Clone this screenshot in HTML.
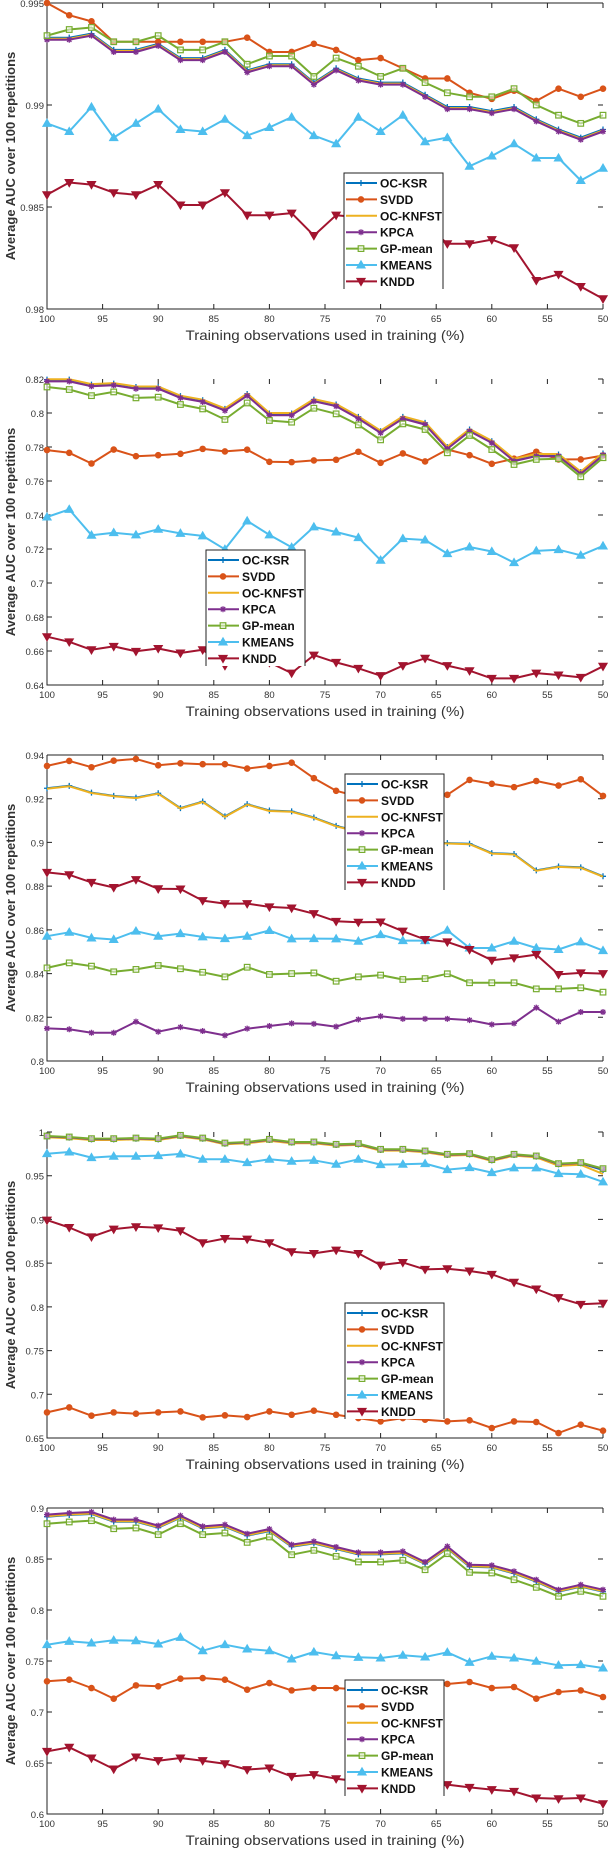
<!DOCTYPE html>
<html><head><meta charset="utf-8"><style>
html,body{margin:0;padding:0;background:#fff;}
svg{display:block;font-family:"Liberation Sans",Arial,sans-serif;}
</style></head><body>
<svg id="fig" width="608" height="1850" viewBox="0 0 608 1850" xmlns="http://www.w3.org/2000/svg"></svg>
<script>
const categories=[100,98,96,94,92,90,88,86,84,82,80,78,76,74,72,70,68,66,64,62,60,58,56,54,52,50];
const xTickLabels=[100,95,90,85,80,75,70,65,60,55,50];
const seriesNames=["OC-KSR","SVDD","OC-KNFST","KPCA","GP-mean","KMEANS","KNDD"];
// Panel 1
const p1Ticks=[0.98,0.985,0.99,0.995];
const p1_ocksr=[.9933,.9933,.9935,.9927,.9927,.993,.9923,.9923,.9927,.9917,.992,.992,.9911,.9918,.9913,.9911,.9911,.9905,.9899,.9899,.9897,.9899,.9893,.9888,.9884,.9888];
const p1_svdd=[.995,.9944,.9941,.9931,.9931,.9931,.9931,.9931,.9931,.9933,.9926,.9926,.993,.9927,.9922,.9923,.9918,.9913,.9913,.9906,.9903,.9907,.9902,.9908,.9904,.9908];
const p1_knfst=[.99325,.99325,.99345,.99265,.99265,.99295,.99225,.99225,.99265,.99165,.99195,.99195,.99105,.99175,.99125,.99105,.99105,.99045,.98985,.98985,.98965,.98985,.98925,.98875,.98835,.98875];
const p1_kpca=[.9932,.9932,.9934,.9926,.9926,.9929,.9922,.9922,.9926,.9916,.9919,.9919,.991,.9917,.9912,.991,.991,.9904,.9898,.9898,.9896,.9898,.9892,.9887,.9883,.9887];
const p1_gp=[.9934,.9937,.9938,.9931,.9931,.9934,.9927,.9927,.9931,.992,.9924,.9924,.9914,.9923,.9919,.9914,.9918,.9911,.9906,.9904,.9904,.9908,.99,.9895,.9891,.9895];
const p1_kmeans=[.9891,.9887,.9899,.9884,.9891,.9898,.9888,.9887,.9893,.9885,.9889,.9894,.9885,.9881,.9894,.9887,.9895,.9882,.9884,.987,.9875,.9881,.9874,.9874,.9863,.9869];
const p1_kndd=[.9856,.9862,.9861,.9857,.9856,.9861,.9851,.9851,.9857,.9846,.9846,.9847,.9836,.9846,.9845,.9844,.9843,.9842,.9832,.9832,.9834,.983,.9814,.9817,.9811,.9805];
// Panel 2
const p2Ticks=[0.64,0.66,0.68,0.7,0.72,0.74,0.76,0.78,0.8,0.82];
const p2_ocksr=[.8196,.8196,.8167,.8173,.8153,.8153,.8099,.8075,.8024,.8112,.7997,.7997,.8079,.805,.7977,.7893,.7977,.7942,.7799,.7903,.7834,.7727,.7756,.7756,.7652,.7762];
const p2_svdd=[.7782,.7766,.7703,.7785,.7746,.7752,.776,.7789,.7774,.7784,.7713,.7711,.7721,.7725,.7772,.7707,.7762,.7715,.7785,.7752,.7701,.7731,.7772,.7727,.7727,.775];
const p2_knfst=[.8199,.8199,.817,.8176,.8156,.8156,.8102,.8078,.8027,.8115,.8,.8,.8082,.8053,.798,.7896,.798,.7945,.7802,.7906,.7837,.773,.7759,.7759,.7655,.7765];
const p2_kpca=[.8186,.8186,.8157,.8163,.8143,.8143,.8089,.8065,.8014,.8102,.7987,.7987,.8069,.804,.7967,.7883,.7967,.7932,.7789,.7893,.7824,.7717,.7746,.7746,.7642,.7752];
const p2_gp=[.8153,.8138,.8102,.8124,.8089,.8093,.805,.8024,.7962,.8059,.7956,.7946,.8028,.7995,.793,.7842,.7936,.7903,.7766,.7868,.7785,.7697,.7727,.7731,.7625,.7737];
const p2_kmeans=[.7388,.7433,.7281,.7296,.7283,.7316,.7292,.7277,.7198,.7365,.7283,.721,.733,.73,.7267,.7134,.7261,.7253,.7173,.7212,.7185,.712,.7189,.7196,.7163,.7218];
const p2_kndd=[.6684,.6654,.6607,.6627,.6598,.6615,.6588,.6607,.6514,.6553,.6533,.647,.6576,.6533,.6498,.6455,.6514,.6557,.6514,.6484,.6439,.6439,.647,.6459,.6445,.651];
// Panel 3
const p3Ticks=[0.8,0.82,0.84,0.86,0.88,0.9,0.92,0.94];
const p3_ocksr=[.9248,.9259,.9228,.9213,.9205,.9225,.9157,.9187,.9119,.9175,.9146,.9142,.9114,.9076,.905,.902,.9005,.900,.8997,.8994,.8951,.8947,.8872,.889,.8886,.8845];
const p3_svdd=[.935,.9373,.9344,.9374,.9382,.9353,.9362,.9358,.9358,.9338,.935,.9365,.9294,.9236,.921,.9215,.921,.9212,.9218,.9286,.9268,.9253,.9281,.926,.9289,.9213];
const p3_knfst=[.9246,.9257,.9226,.9211,.9203,.9223,.9155,.9185,.9117,.9173,.9144,.914,.9112,.9074,.9048,.9018,.9003,.8998,.8995,.8992,.8949,.8945,.887,.8888,.8884,.8843];
const p3_kpca=[.8149,.8145,.8129,.8129,.818,.8134,.8155,.8137,.8117,.8148,.816,.8172,.817,.8157,.819,.8205,.8193,.8193,.8193,.8187,.8167,.8172,.8244,.818,.8224,.8224];
const p3_gp=[.8426,.8449,.8434,.8408,.8419,.8437,.8422,.8406,.8385,.8429,.8396,.84,.8403,.8365,.8385,.8393,.8373,.8377,.8399,.8358,.8358,.8358,.833,.833,.8335,.8315];
const p3_kmeans=[.8571,.8589,.8563,.8556,.8594,.8571,.8583,.8568,.856,.8571,.8597,.8559,.856,.8559,.8548,.8578,.8551,.8551,.8598,.8517,.8517,.8548,.8517,.851,.8545,.8505];
const p3_kndd=[.8863,.8852,.8817,.8794,.883,.8788,.8787,.8734,.872,.872,.8705,.87,.8674,.8639,.8635,.8636,.8594,.8556,.8545,.851,.8461,.8472,.8487,.8396,.8403,.84];
// Panel 4
const p4Ticks=[0.65,0.7,0.75,0.8,0.85,0.9,0.95,1];
const p4_ocksr=[.9946,.9935,.9916,.9916,.9923,.9916,.9954,.9923,.9866,.9878,.9908,.9878,.9878,.9851,.9859,.9794,.9794,.9775,.9737,.9744,.9676,.9737,.9718,.963,.9642,.9565];
const p4_svdd=[.6793,.685,.6755,.6793,.6778,.6793,.6804,.6736,.6759,.674,.6804,.6766,.6812,.6766,.6728,.669,.6728,.6709,.669,.6702,.6614,.669,.6683,.6557,.6652,.6584];
const p4_knfst=[.9939,.9928,.9909,.9909,.9916,.9909,.9947,.9916,.9859,.9871,.9901,.9871,.9871,.9844,.9852,.9787,.9787,.9768,.973,.9737,.9669,.973,.9711,.9615,.9625,.952];
const p4_kpca=[.9949,.9938,.9919,.9919,.9926,.9919,.9957,.9926,.9869,.9881,.9911,.9881,.9881,.9854,.9862,.9797,.9797,.9778,.974,.9747,.9679,.974,.9721,.9633,.9645,.9576];
const p4_gp=[.9954,.9943,.9924,.9924,.9931,.9924,.9962,.9931,.9874,.9886,.9916,.9886,.9886,.9859,.9867,.9802,.9802,.9783,.9745,.9752,.9684,.9745,.9726,.9638,.965,.9581];
const p4_kmeans=[.9752,.9771,.9707,.9722,.9722,.973,.9749,.9688,.9688,.965,.9688,.9665,.9676,.9631,.9688,.9627,.9631,.9638,.957,.9593,.9536,.9589,.9589,.9524,.9517,.9429];
const p4_kndd=[.8992,.8908,.8801,.8889,.8916,.8904,.887,.8733,.8782,.8775,.8733,.863,.8611,.8649,.8611,.8478,.8508,.8429,.8436,.841,.8372,.8281,.8204,.8105,.8029,.8041];
// Panel 5
const p5Ticks=[0.6,0.65,0.7,0.75,0.8,0.85,0.9];
const p5_ocksr=[.8915,.8931,.8941,.8866,.8866,.8807,.8905,.88,.8817,.8728,.8774,.8621,.8653,.8598,.8545,.8545,.8555,.8451,.8604,.8424,.8418,.8359,.8277,.8179,.8228,.8179];
const p5_svdd=[.7301,.7317,.7235,.7131,.7261,.7252,.7327,.7333,.7317,.7219,.7284,.7212,.7235,.7235,.722,.723,.724,.726,.7275,.7294,.7235,.7245,.7131,.7196,.7212,.7147];
const p5_knfst=[.892,.8936,.8946,.8871,.8871,.8812,.891,.8805,.8822,.8733,.8779,.8626,.8658,.8603,.855,.855,.856,.8456,.8609,.8429,.8423,.8364,.8282,.8184,.8233,.8184];
const p5_kpca=[.8935,.8951,.8961,.8886,.8886,.8827,.8925,.882,.8837,.8748,.8794,.8641,.8673,.8618,.8565,.8565,.8575,.8471,.8624,.8444,.8438,.8379,.8297,.8199,.8248,.8199];
const p5_gp=[.8846,.8863,.8876,.8797,.8804,.8739,.8846,.8739,.8755,.8663,.8716,.8542,.8585,.8526,.8471,.8471,.8487,.8395,.8552,.8369,.8363,.8297,.8222,.8134,.8183,.8134];
const p5_kmeans=[.766,.7693,.7676,.7703,.7699,.7667,.7732,.7601,.766,.7618,.7601,.752,.7588,.7552,.7536,.7529,.7556,.7539,.7585,.7487,.7546,.7529,.7497,.7458,.7464,.7431];
const p5_kndd=[.6614,.6654,.6549,.6441,.6559,.6523,.6549,.6523,.6493,.6435,.6451,.6369,.6386,.6346,.632,.630,.628,.625,.6288,.6261,.6239,.6222,.6157,.615,.6157,.6101];

const NS="http://www.w3.org/2000/svg";
const svg=document.getElementById('fig');
const colors=["#0072BD","#D95319","#EDB120","#7E2F8E","#77AC30","#4DBEEE","#A2142F"];
const markers=["plus","circle","none","star","square","tri","tridown"];
const L=47,R=603,H=306;
function mk(tag,attrs,parent){const e=document.createElementNS(NS,tag);for(const k in attrs)e.setAttribute(k,attrs[k]);(parent||svg).appendChild(e);return e;}
function drawMarker(g,type,x,y,c){
  let m=null;
  if(type==="plus"){m=mk('path',{d:`M${x-3},${y}H${x+3}M${x},${y-3}V${y+3}`,stroke:c,'stroke-width':1.3,fill:'none'},g);}
  else if(type==="circle"){m=mk('circle',{cx:x,cy:y,r:2.8,fill:c,stroke:c},g);}
  else if(type==="star"){m=mk('path',{d:`M${x-3},${y}H${x+3}M${x},${y-3}V${y+3}M${x-2.2},${y-2.2}L${x+2.2},${y+2.2}M${x-2.2},${y+2.2}L${x+2.2},${y-2.2}`,stroke:c,'stroke-width':1.3,fill:'none'},g);}
  else if(type==="square"){m=mk('rect',{x:x-2.8,y:y-2.8,width:5.6,height:5.6,fill:'#fff','fill-opacity':0.5,stroke:c,'stroke-width':1.2},g);}
  else if(type==="tri"){m=mk('path',{d:`M${x},${y-4.2}L${x+4.2},${y+3}L${x-4.2},${y+3}Z`,fill:c,stroke:c,'stroke-width':1},g);}
  else if(type==="tridown"){m=mk('path',{d:`M${x},${y+4.2}L${x+4.2},${y-3}L${x-4.2},${y-3}Z`,fill:c,stroke:c,'stroke-width':1},g);}
  if(m){
  }
}
function drawPanel(idx,top,ymin,ymax,ticks,series,legX,legY,topLine){
  const B=top+H;
  const xs=v=>L+(100-v)/50*(R-L);
  const ys=v=>B-(v-ymin)/(ymax-ymin)*H;
  const g=mk('g',{});
  
  
  // axes
  const ax=mk('path',{d:`M${L},${top}V${B}H${R}`+(topLine?`M${L},${top}H${R}`:''),stroke:'#222','stroke-width':1,fill:'none'},g);
  
  
  xTickLabels.forEach(t=>{const x=xs(t);
    mk('path',{d:`M${x},${B}V${B-5}M${x},${top}V${top+5}`,stroke:'#222','stroke-width':1},g);
    const tx=mk('text',{x:x,y:B+13,'font-size':9.5,'text-anchor':'middle',fill:'#333'},g);tx.textContent=t;
    
    });
  ticks.forEach(t=>{const y=ys(t);
    mk('path',{d:`M${L},${y}H${L+5}M${R},${y}H${R-5}`,stroke:'#222','stroke-width':1},g);
    const tx=mk('text',{x:44,y:y+4,'font-size':9.5,'text-anchor':'end',fill:'#333'},g);tx.textContent=String(t);
    
    });
  const yl=mk('text',{x:0,y:0,transform:`translate(15,${top+153}) rotate(-90)`,'font-size':13,'font-weight':'bold','text-anchor':'middle',fill:'#333'},g);
  yl.textContent="Average AUC over 100 repetitions";
  
  
  const xl=mk('text',{x:325,y:B+31,'font-size':14,'text-anchor':'middle',fill:'#333',textLength:279,lengthAdjust:'spacingAndGlyphs'},g);
  xl.textContent="Training observations used in training (%)";
  
  
  // series
  series.forEach((vals,si)=>{
    const sg=mk('g',{},g);
    
    
    const d=vals.map((v,i)=>(i?'L':'M')+xs(categories[i]).toFixed(1)+','+ys(v).toFixed(1)).join('');
    mk('path',{d:d,stroke:colors[si],'stroke-width':2,fill:'none','stroke-linejoin':'round'},sg);
    vals.forEach((v,i)=>drawMarker(sg,markers[si],xs(categories[i]),ys(v),colors[si]));
  });
  // legend
  const lg=mk('g',{},g);
  
  
  mk('rect',{x:legX,y:legY,width:99,height:116,fill:'#fff'},lg);
  mk('path',{d:`M${legX},${legY+116}V${legY}H${legX+99}V${legY+116}`,stroke:'#222','stroke-width':1,fill:'none'},lg);
  seriesNames.forEach((n,si)=>{
    const y=legY+10+si*16.4;
    const e=mk('g',{},lg);
    
    
    mk('path',{d:`M${legX+2},${y}H${legX+33}`,stroke:colors[si],'stroke-width':2},e);
    drawMarker(e,markers[si],legX+17,y,colors[si]);
    const t=mk('text',{x:legX+36,y:y+4.5,'font-size':12,'font-weight':'bold',fill:'#111'},e);t.textContent=n;
  });
}
drawPanel(1,3,0.98,0.995,p1Ticks,[p1_ocksr,p1_svdd,p1_knfst,p1_kpca,p1_gp,p1_kmeans,p1_kndd],344,173,true);
drawPanel(2,379,0.64,0.82,p2Ticks,[p2_ocksr,p2_svdd,p2_knfst,p2_kpca,p2_gp,p2_kmeans,p2_kndd],206,550,false);
drawPanel(3,755,0.8,0.94,p3Ticks,[p3_ocksr,p3_svdd,p3_knfst,p3_kpca,p3_gp,p3_kmeans,p3_kndd],345,774,true);
drawPanel(4,1132,0.65,1.0,p4Ticks,[p4_ocksr,p4_svdd,p4_knfst,p4_kpca,p4_gp,p4_kmeans,p4_kndd],345,1303,false);
drawPanel(5,1508,0.6,0.9,p5Ticks,[p5_ocksr,p5_svdd,p5_knfst,p5_kpca,p5_gp,p5_kmeans,p5_kndd],345,1680,true);
</script>
</body></html>
